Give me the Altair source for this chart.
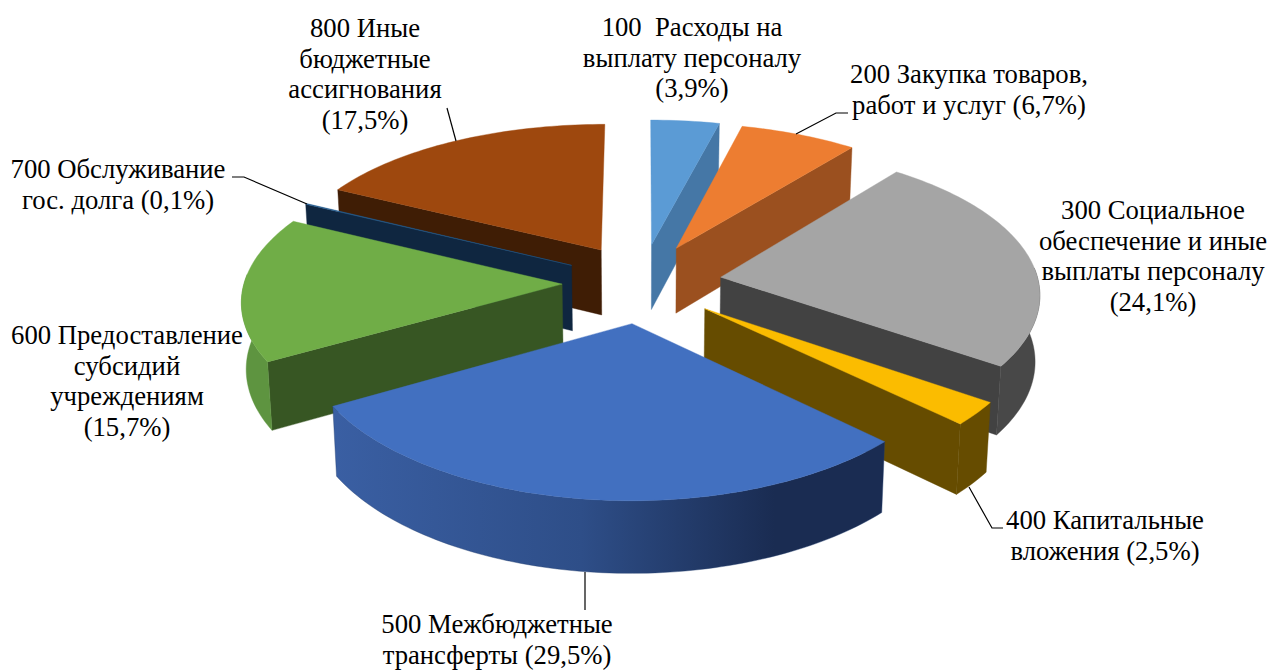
import math
import altair as alt
import pandas as pd

# ---- values
codes = [100, 200, 300, 400, 500, 600, 700, 800]
shares = [3.9, 6.7, 24.1, 2.5, 29.5, 15.7, 0.1, 17.5]
top_colors = ["#5B9BD5", "#ED7D31", "#A5A5A5", "#FBBC00", "#4270C0", "#70AD47", "#255E91", "#9E480E"]
wall_colors = ["#4577A6", "#9B501F", "#424242", "#664C00", "#1A2C52", "#375623", "#0F2640", "#3F1D05"]
rim_colors = ["#4577A6", "#9B501F", "#484848", "#664C00", None, "#5E9440", "#0F2640", "#3F1D05"]
rim_gradient_500 = ["#3A5FA3", "#2E4E88", "#1A2C52", "#1A2C52"]
side_wall = {100: "end", 200: "end", 300: "end", 400: "end", 600: "start", 700: "start", 800: "start"}
draw_order = [800, 700, 600, 100, 200, 300, 400, 500]

label_lines = [
    ["100\u00a0 Расходы на", "выплату персоналу", "(3,9%)"],
    ["200 Закупка товаров,", "работ и услуг (6,7%)"],
    ["300 Социальное", "обеспечение и иные", "выплаты персоналу", "(24,1%)"],
    ["400 Капитальные", "вложения (2,5%)"],
    ["500 Межбюджетные", "трансферты (29,5%)"],
    ["600 Предоставление", "субсидий", "учреждениям", "(15,7%)"],
    ["700 Обслуживание", "гос. долга (0,1%)"],
    ["800 Иные", "бюджетные", "ассигнования", "(17,5%)"],
]
label_x = [692, 969, 1153, 1105, 497, 127, 118, 365]
label_y = [28, 75, 211, 521, 625, 336, 170, 29]
line_step = 30.7

leaders = [
    [(447, 108), (456, 141)],
    [(232, 177), (244, 177), (307, 204)],
    [(796, 134), (836, 113), (848, 113)],
    [(969, 487), (992, 528), (1003, 528)],
    [(585, 572), (585, 610)],
]

# ---- view geometry of the tilted pie
CX, CY, RX, RY = 642, 283, 318, 147
PERSP_X, PERSP_Y, PERSP_Z = 10.0, 8.8, 14.0
DEPTH, EXPLODE, EXPLODE_X_RATIO, BOTTOM_SHRINK = 66, 0.27, 0.93, 0.012


def project(u, v, down=0.0):
    sx = PERSP_X / (PERSP_X + v)
    sy = PERSP_Y / (PERSP_Y + v)
    sz = PERSP_Z / (PERSP_Z + v)
    return (CX + RX * u * sx * (1 - BOTTOM_SHRINK * down),
            CY - RY * v * sy + DEPTH * down * sz)


W, H = 1259, 662
xs = alt.Scale(domain=[8, 8 + W], range=[0, W], nice=False, zero=False)
ys = alt.Scale(domain=[8, 8 + H], range=[0, H], nice=False, zero=False)


def polygon(points, fill):
    df = pd.DataFrame([{"x": p[0], "y": p[1], "i": i} for i, p in enumerate(points)])
    edge = fill if isinstance(fill, str) else "#24406F"
    return alt.Chart(df).mark_line(fill=fill, stroke=edge, strokeWidth=0.4,
                                   interpolate="linear-closed").encode(
        x=alt.X("x:Q", scale=xs, axis=None),
        y=alt.Y("y:Q", scale=ys, axis=None),
        order="i:Q",
    )


layers = []
starts = {}
acc = 0.0
for c, s in zip(codes, shares):
    starts[c] = (acc, acc + s)
    acc += s

for code in draw_order:
    k = codes.index(code)
    p0, p1 = starts[code]
    a0, a1 = p0 / 100 * 2 * math.pi, p1 / 100 * 2 * math.pi
    mid = (a0 + a1) / 2
    ou, ov = EXPLODE * EXPLODE_X_RATIO * math.sin(mid), EXPLODE * math.cos(mid)
    n = max(2, int((p1 - p0) * 3))
    angles = [a0 + (a1 - a0) * i / n for i in range(n + 1)]
    rim = [(ou + math.sin(a), ov + math.cos(a)) for a in angles]

    # radial wall
    which = side_wall.get(code)
    if which:
        end = rim[-1] if which == "end" else rim[0]
        layers.append(polygon([project(ou, ov), project(*end), project(*end, 1), project(ou, ov, 1)], wall_colors[k]))
    # rim wall: only the part that faces the viewer
    front = [r for r, a in zip(rim, angles) if math.cos(a) < 0.08]
    if code in (300, 400, 500, 600) and len(front) > 1:
        rim_poly = [project(*r) for r in front] + [project(*r, 1) for r in reversed(front)]
        if code == 500:
            fill = alt.LinearGradient(
                gradient="linear", x1=0, x2=1, y1=0, y2=0,
                stops=[alt.GradientStop(offset=o, color=col)
                       for o, col in zip([0, 0.45, 0.8, 1], rim_gradient_500)],
            )
        else:
            fill = rim_colors[k]
        layers.append(polygon(rim_poly, fill))
    # top face
    layers.append(polygon([project(ou, ov)] + [project(*r) for r in rim], top_colors[k]))

# leader lines
for pts in leaders:
    df = pd.DataFrame([{"x": p[0], "y": p[1], "i": i} for i, p in enumerate(pts)])
    layers.append(alt.Chart(df).mark_line(color="#000000", strokeWidth=1.2).encode(
        x=alt.X("x:Q", scale=xs, axis=None), y=alt.Y("y:Q", scale=ys, axis=None), order="i:Q"))

# labels
rows = []
for lines, lx, ly in zip(label_lines, label_x, label_y):
    for i, t in enumerate(lines):
        rows.append({"x": lx, "y": ly + i * line_step, "t": t})
layers.append(alt.Chart(pd.DataFrame(rows)).mark_text(
    font="Liberation Serif", fontSize=26.7, color="#000000", baseline="middle", align="center"
).encode(x=alt.X("x:Q", scale=xs, axis=None), y=alt.Y("y:Q", scale=ys, axis=None), text="t:N"))

chart = alt.layer(*layers).properties(width=W, height=H, padding=0, background="#FFFFFF",
                                      autosize=alt.AutoSizeParams(type="none")).configure_view(stroke=None)
chart.save("out.html", embed_options={"renderer": "svg", "actions": False})
